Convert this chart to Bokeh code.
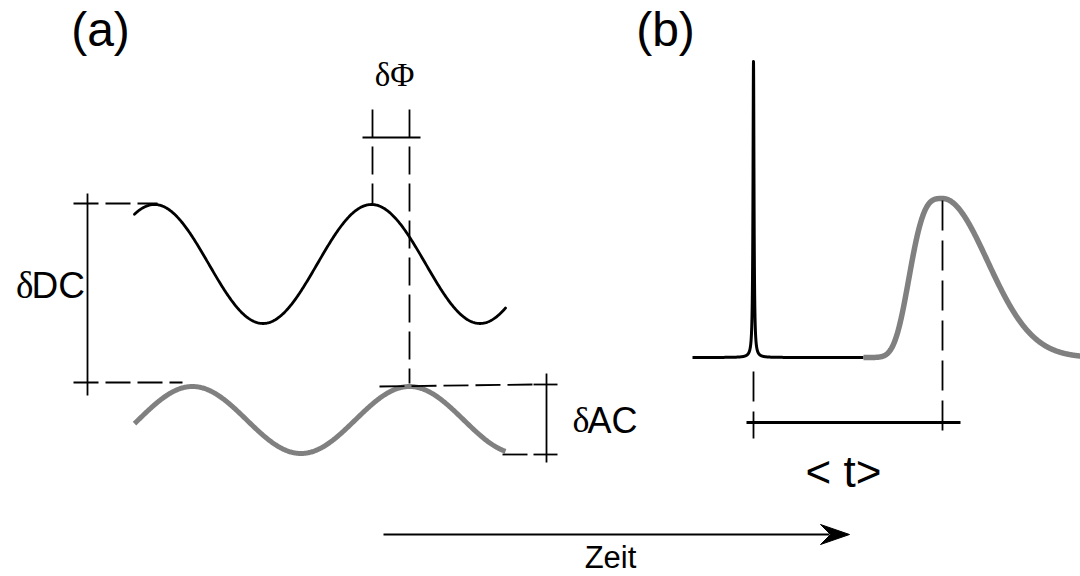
import numpy as np
from bokeh.plotting import figure
from bokeh.models import Range1d
from bokeh.core.properties import value
from bokeh.embed import file_html
from bokeh.resources import INLINE

W, H = 1080, 576

# ---- panel (a): sine waves [x_start, x_end, x_of_peak, period, y_top, y_bottom]
wave_excitation = [134, 505, 371, 217, 204, 323]
wave_emission = [134, 505, 409, 217, 386, 453]

# ---- panel (b): pulse [x_start, x_end, x_center, y_base, y_top, half_width]
pulse = [692, 863, 753, 357, 61, 0.6]
# decay [x_start, x_end, x_peak, y_base, y_top, left_scale, left_power, right_sigma]
decay = [863, 1080, 942, 357, 198, 37.4, 3.37, 45.0]

# ---- annotation segments  (x0, y0, x1, y1)
thin_solid = [(87, 193, 87, 395),      # delta DC bar
              (362, 137, 420, 137),    # delta Phi bar
              (546, 373, 546, 462),    # delta AC bar
              (533, 384, 557, 384),
              (533, 454, 557, 454)]
dashed_a = [(73, 203, 157, 203),
            (73, 382, 182, 382),
            (379, 386, 533, 384),
            (502, 454, 533, 454)]
dashed_phi = [(372, 109, 372, 205),
              (409, 109, 409, 383)]
dashed_b = [(753, 371, 753, 438),
            (942, 200, 942, 439)]
t_bar = [(746, 422, 960, 422)]
time_arrow = [383, 849, 534]   # x_start, x_tip, y

# (text, x, baseline y, font size px, align)
labels_sans = [("(a)", 100, 48, 48, "center"),
               ("(b)", 665, 48, 48, "center"),
               ("DC", 31, 300, 37, "left"),
               ("AC", 587, 434, 36, "left"),
               ("< t>", 843, 489, 44, "center"),
               ("Zeit", 610, 569, 31, "center")]
labels_serif = [("δΦ", 394, 88, 33, "center"),
                ("δ", 33, 300, 37, "right"),
                ("δ", 589, 434, 36, "right")]

p = figure(width=W, height=H, output_backend="svg", toolbar_location=None,
           x_range=Range1d(0, W), y_range=Range1d(H, 0), min_border=0)
p.axis.visible = False
p.grid.visible = False
p.outline_line_color = None
p.background_fill_color = "white"
p.border_fill_color = "white"


def sine(params):
    x0, x1, xp, per, top, bot = params
    x = np.linspace(x0, x1, 500)
    yc = (top + bot) / 2.0
    amp = (bot - top) / 2.0
    return x, yc - amp * np.cos(2 * np.pi * (x - xp) / per)


x, y = sine(wave_excitation)
p.line(x, y, line_color="black", line_width=2.8, line_join="round", line_cap="round")
x, y = sine(wave_emission)
p.line(x, y, line_color="#808080", line_width=5, line_join="round")

# pulse
x0, x1, xc, yb, yt, g = pulse
xs = np.unique(np.concatenate([np.linspace(x0, x1, 400), xc + np.linspace(-20, 20, 801)]))
ys = yb - (yb - yt) * g ** 2 / ((xs - xc) ** 2 + g ** 2)
p.line(xs, ys, line_color="black", line_width=3, line_join="round")

# decay curve
x0, x1, xp, yb, yt, la, lp, rs = decay
xd = np.linspace(x0, x1, 600)
dx = xd - xp
f = np.where(dx < 0, np.exp(-(np.abs(dx) / la) ** lp), np.exp(-dx ** 2 / (2 * rs ** 2)))
p.line(xd, yb - (yb - yt) * f, line_color="#808080", line_width=5.5, line_join="round")


def segs(lst, **kw):
    a = np.array(lst, dtype=float)
    p.segment(a[:, 0], a[:, 1], a[:, 2], a[:, 3], **kw)


segs(thin_solid, line_color="black", line_width=1.8)
segs(dashed_a, line_color="black", line_width=1.8, line_dash="25 7")
segs(dashed_phi, line_color="black", line_width=1.8, line_dash="28 9")
segs(dashed_b, line_color="black", line_width=1.8, line_dash="30 10")
segs(t_bar, line_color="black", line_width=3)

# time arrow
ax0, axt, ay = time_arrow
p.segment([ax0], [ay], [axt - 20], [ay], line_color="black", line_width=2)
hx = np.array([axt, axt - 29, axt - 19, axt - 29])
hy = np.array([ay, ay - 10, ay, ay + 10])
p.patch(hx, hy, fill_color="black", line_color="black", line_width=1)

# the svg text renderer places the anchor about 0.4 em above the alphabetic baseline
for fam, labels in (("Liberation Sans", labels_sans), ("Liberation Serif", labels_serif)):
    for t, xx, yy, fs, al in labels:
        p.text(x=[xx], y=[yy - 0.4 * fs], text=[t], text_font=value(fam),
               text_font_size=value(f"{fs}px"), text_align=al, text_baseline="alphabetic",
               text_color="black")

open("out.html", "w").write(file_html(p, INLINE))
